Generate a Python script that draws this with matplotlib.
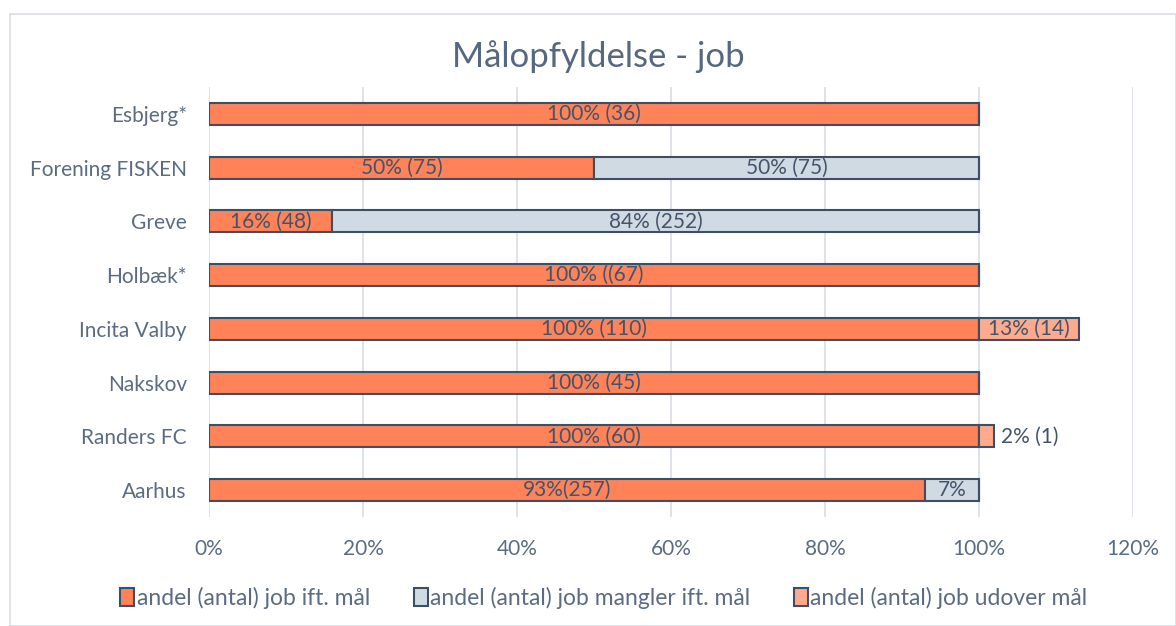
import matplotlib
matplotlib.use("Agg")
import matplotlib.pyplot as plt
from matplotlib.patches import Rectangle

categories = ["Esbjerg*", "Forening FISKEN", "Greve", "Holbæk*", "Incita Valby",
              "Nakskov", "Randers FC", "Aarhus"]
achieved = [1.00, 0.50, 0.16, 1.00, 1.00, 1.00, 1.00, 0.93]
missing = [0.00, 0.50, 0.84, 0.00, 0.00, 0.00, 0.00, 0.07]
exceeding = [0.00, 0.00, 0.00, 0.00, 0.13, 0.00, 0.02, 0.00]
achieved_labels = ["100% (36)", "50% (75)", "16% (48)", "100% ((67)", "100% (110)",
                   "100% (45)", "100% (60)", "93%(257)"]
missing_labels = ["", "50% (75)", "84% (252)", "", "", "", "", "7%"]
exceeding_labels = ["", "", "", "", "13% (14)", "", "2% (1)", ""]
series_names = ["andel (antal) job ift. mål", "andel (antal) job mangler ift. mål",
                "andel (antal) job udover mål"]
xticks = [0, 0.2, 0.4, 0.6, 0.8, 1.0, 1.2]
xtick_labels = ["0%", "20%", "40%", "60%", "80%", "100%", "120%"]
title = "Målopfyldelse - job"

plt.rcParams['font.family'] = ['Lato', 'DejaVu Sans']
c_ach = "#FF8259"
c_mis = "#D0DAE3"
c_exc = "#FFAA8C"
edge = "#3C4F65"
txt = "#5B6C82"
lbl = "#44546A"

fig = plt.figure(figsize=(11.76, 6.26), dpi=100)
fig.patches.append(Rectangle((10/1176, 0), (1176-10)/1176, (626-14)/626,
                             transform=fig.transFigure, fill=False,
                             edgecolor="#D9DEE4", linewidth=1.2))
ax = fig.add_axes([209/1176, 1 - 517/626, (1133-209)/1176, (517-87)/626])

y = list(range(len(categories)))
h = 0.41
ax.barh(y, achieved, height=h, color=c_ach, edgecolor=edge, linewidth=1.5,
        label=series_names[0], zorder=3)
ax.barh(y, missing, left=achieved, height=h, color=c_mis, edgecolor=edge, linewidth=1.5,
        label=series_names[1], zorder=3)
left2 = [a + m for a, m in zip(achieved, missing)]
ax.barh(y, exceeding, left=left2, height=h, color=c_exc, edgecolor=edge, linewidth=1.5,
        label=series_names[2], zorder=3)

fs = 15
for i in y:
    if achieved[i] > 0:
        ax.text(achieved[i] / 2, i, achieved_labels[i], ha="center", va="center",
                color=lbl, fontsize=fs, zorder=4)
    if missing[i] > 0:
        ax.text(achieved[i] + missing[i] / 2, i, missing_labels[i], ha="center",
                va="center", color=lbl, fontsize=fs, zorder=4)
    if exceeding[i] > 0:
        if exceeding[i] >= 0.1:
            ax.text(left2[i] + exceeding[i] / 2, i, exceeding_labels[i], ha="center",
                    va="center", color=lbl, fontsize=fs, zorder=4)
        else:
            ax.text(left2[i] + exceeding[i] + 0.008, i, exceeding_labels[i], ha="left",
                    va="center", color=lbl, fontsize=fs, zorder=4)

ax.set_xlim(0, 1.2)
ax.set_ylim(len(categories) - 0.5, -0.5)
ax.set_yticks(y)
ax.set_yticklabels(categories, color=txt, fontsize=fs)
ax.set_xticks(xticks)
ax.set_xticklabels(xtick_labels, color=txt, fontsize=fs)
ax.tick_params(axis="both", length=0)
ax.tick_params(axis="y", pad=16)
ax.tick_params(axis="x", pad=16)
ax.grid(axis="x", color="#D9DEE5", linewidth=1.2, zorder=0)
for s in ax.spines.values():
    s.set_visible(False)

fig.text(598/1176, 1 - 57/626, title, ha="center", va="center", color="#56687E",
         fontsize=25)

leg = fig.legend(loc="center", bbox_to_anchor=(604/1176, 1 - 598/626), ncol=3,
                 frameon=False, fontsize=16.5, handlelength=0.6, handleheight=0.85,
                 handletextpad=0.12, columnspacing=1.9)
for t in leg.get_texts():
    t.set_color(txt)

fig.savefig("out.png", dpi=100)
